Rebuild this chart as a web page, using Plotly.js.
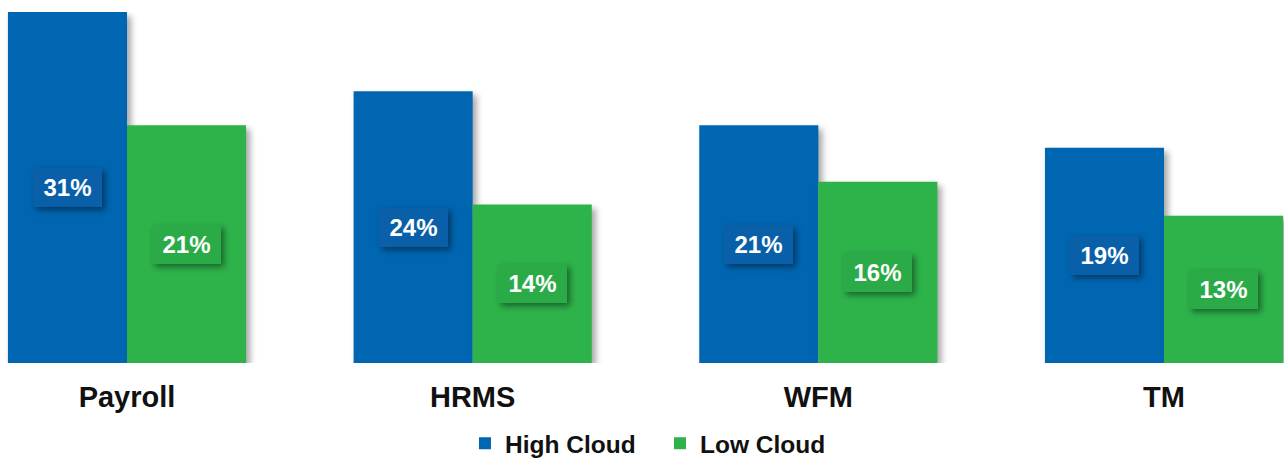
<!DOCTYPE html>
<html>
<head>
<meta charset="utf-8">
<script src="https://cdn.plot.ly/plotly-3.0.1.min.js"></script>
<style>
html,body{margin:0;padding:0;background:#fff;}
#chart{width:1284px;height:458px;}
.barlayer .point path{filter:drop-shadow(4px 4px 3px rgba(0,0,0,0.35));}
.annotation-text-g rect{filter:drop-shadow(3px 3px 3px rgba(0,0,0,0.45));}
</style>
</head>
<body>
<div id="chart"></div>
<script>
const categories = ["Payroll", "HRMS", "WFM", "TM"];
const highCloud = [31, 24, 21, 19];
const lowCloud = [21, 14, 16, 13];
const seriesNames = ["High Cloud", "Low Cloud"];

const blue = "#0066b1";
const green = "#2eb34b";
const blueBox = "#0a5fa9";
const greenBox = "#2aab47";
const fontFam = "Liberation Sans, Arial, sans-serif";

const traces = [
  {type: "bar", x: categories, y: highCloud, name: seriesNames[0], marker: {color: blue}, hoverinfo: "none"},
  {type: "bar", x: categories, y: lowCloud, name: seriesNames[1], marker: {color: green}, hoverinfo: "none"}
];

const annotations = [];
const bw = 0.3445;
categories.forEach((c, i) => {
  [[highCloud, blueBox, -1], [lowCloud, greenBox, 1]].forEach(([arr, bg, side]) => {
    annotations.push({
      x: i + side * bw / 2, y: arr[i] / 2, xref: "x", yref: "y",
      text: arr[i] + "%", showarrow: false,
      font: {family: fontFam, size: 24, color: "#ffffff", weight: "bold"},
      bgcolor: bg, borderpad: 8, borderwidth: 0, width: 53, height: 23
    });
  });
});

const layout = {
  width: 1284, height: 458,
  margin: {l: 0, r: 0, t: 12, b: 95, autoexpand: false},
  paper_bgcolor: "#ffffff", plot_bgcolor: "#ffffff",
  barmode: "group", bargap: 0.311, bargroupgap: 0,
  xaxis: {
    type: "category", range: [-0.3674, 3.3471], automargin: false,
    showgrid: false, zeroline: false, showline: false, ticks: "",
    ticklabelstandoff: 14,
    tickfont: {family: fontFam, size: 29, color: "#111111", weight: "bold"}
  },
  yaxis: {range: [0, 31], visible: false, showgrid: false, zeroline: false},
  showlegend: true,
  legend: {
    orientation: "h", x: 0.514, xanchor: "center",
    yref: "container", y: 0.032, yanchor: "middle",
    font: {family: fontFam, size: 24.5, color: "#111111", weight: "bold"},
    itemwidth: 30, tracegroupgap: 0, entrywidth: 150, entrywidthmode: "pixels"
  },
  annotations: annotations
};

Plotly.newPlot("chart", traces, layout, {displayModeBar: false, staticPlot: true});
</script>
</body>
</html>
